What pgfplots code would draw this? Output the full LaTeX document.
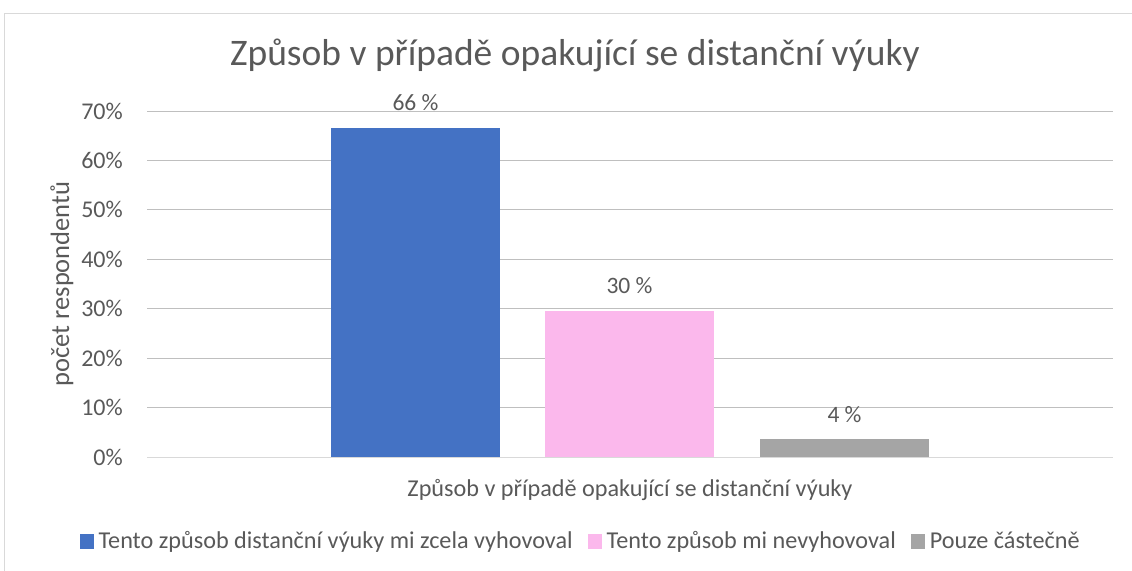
\documentclass[border=0pt]{standalone}
\usepackage{pgfplots}
\pgfplotsset{compat=1.18}
\usepackage{fontspec}
\setmainfont{Carlito}
\definecolor{cblue}{HTML}{4472C4}
\definecolor{cpink}{HTML}{FBB8EC}
\definecolor{cgray}{HTML}{A5A5A5}
\definecolor{grid}{HTML}{D9D9D9}
\definecolor{txt}{HTML}{595959}
\begin{document}
\begin{tikzpicture}
\useasboundingbox (0,0) rectangle (1132bp,-571bp);
\draw[grid, line width=1bp] (4bp,-571bp) -- (4bp,-13bp) -- (1132bp,-13bp);
\begin{axis}[
  at={(147bp,-457bp)}, anchor=south west,
  scale only axis, width=966bp, height=346bp,
  xmin=0, xmax=966, ymin=0, ymax=70,
  axis line style={draw=none},
  tick style={draw=none},
  xtick=\empty,
  ytick={0,10,...,70},
  ymajorgrids, grid style={grid, line width=1bp},
  /pgf/number format/assume math mode=true,
  yticklabel={\pgfmathprintnumber{\tick}\%},
  yticklabel style={anchor=east, inner sep=0pt, xshift=-24bp},
  ticklabel style={font=\fontsize{24bp}{28bp}\selectfont, text=txt},
  title={Způsob v případě opakující se distanční výuky},
  title style={font=\fontsize{37.5bp}{42bp}\selectfont, text=txt, at={(axis description cs:0.443,1.1156)}, anchor=base},
  ylabel={počet respondentů},
  ylabel style={font=\fontsize{26.5bp}{30bp}\selectfont, text=txt, at={(axis description cs:-0.088,0.5)}, anchor=center, rotate=0},
  xlabel={Způsob v případě opakující se distanční výuky},
  xlabel style={font=\fontsize{24.2bp}{28bp}\selectfont, text=txt, at={(axis description cs:0.5,-0.095)}, anchor=center},
  ybar, bar width=169, bar shift=0pt,
  point meta=explicit symbolic,
  nodes near coords={\pgfplotspointmeta},
  every node near coord/.append style={font=\fontsize{23.5bp}{28bp}\selectfont, text=txt, anchor=center, yshift=25bp},
  legend columns=3,
  legend style={at={(axis description cs:0.4478,-0.243)}, anchor=center, draw=none, fill=none,
    font=\fontsize{24.2bp}{28bp}\selectfont, text=txt,
    nodes={inner sep=0pt},
    column sep=5bp,
    /tikz/every even column/.append style={column sep=15bp}},
  legend image code/.code={\fill[#1] (0bp,-7.5bp) rectangle (14bp,7.5bp);},
]
\draw[grid, line width=1bp] (axis cs:0,0) -- (axis cs:966,0);
\addplot[fill=cblue, draw=none] coordinates {(268.5,66.6) [66 \%]};
\addlegendentry{Tento způsob distanční výuky mi zcela vyhovoval}
\addplot[fill=cpink, draw=none] coordinates {(482.5,29.6) [30 \%]};
\addlegendentry{Tento způsob mi nevyhovoval}
\addplot[fill=cgray, draw=none] coordinates {(697.5,3.6) [4 \%]};
\addlegendentry{Pouze částečně}
\end{axis}
\end{tikzpicture}
\end{document}
